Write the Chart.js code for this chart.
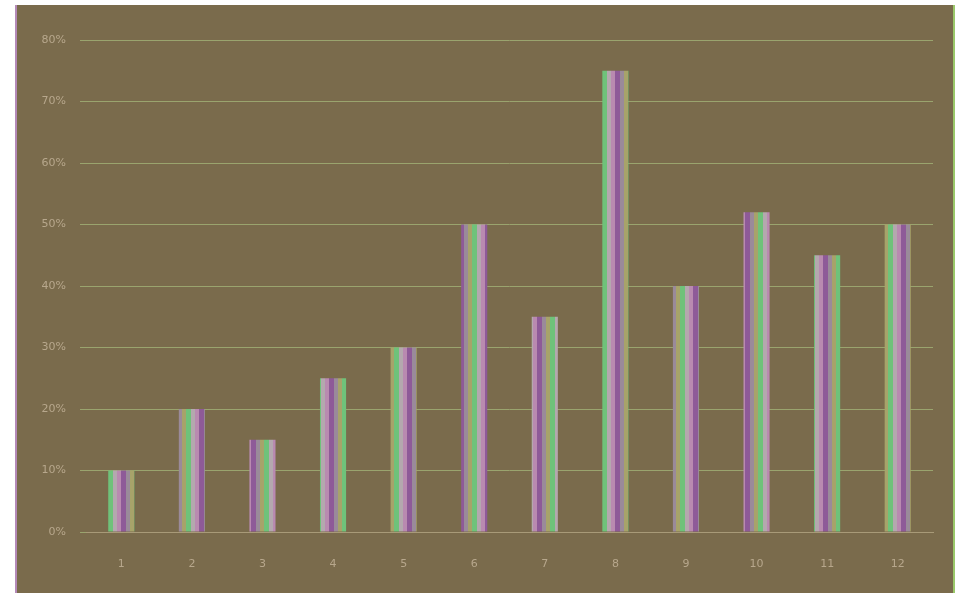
<!DOCTYPE html>
<html>
<head>
<meta charset="utf-8">
<script src="https://cdn.jsdelivr.net/npm/chart.js@4/dist/chart.umd.min.js"></script>
<style>
  html, body { margin: 0; padding: 0; background: #ffffff; }
  #wrap { width: 961px; height: 597px; }
</style>
</head>
<body>
<div id="wrap"><canvas id="c" width="961" height="597"></canvas></div>
<script>
// Monthly values (percent)
const categories = ['1', '2', '3', '4', '5', '6', '7', '8', '9', '10', '11', '12'];
const values = [10, 20, 15, 25, 30, 50, 35, 75, 40, 52, 45, 50];
const yTicks = [0, 10, 20, 30, 40, 50, 60, 70, 80];

// Striped fill for the bars
function stripePattern() {
  const p = document.createElement('canvas');
  p.width = 26; p.height = 4;
  const g = p.getContext('2d');
  const cols = ['#a7a36a', '#6fc27a', '#b4a8ae', '#b98ab0', '#8e5a98', '#9a8a9a'];
  const w = [4, 5, 4, 4, 5, 4];
  let x = 0;
  cols.forEach((c, i) => { g.fillStyle = c; g.fillRect(x, 0, w[i], 4); x += w[i]; });
  return g.createPattern(p, 'repeat');
}

// Panel behind the plot
const panel = {
  id: 'panel',
  beforeDraw(chart) {
    const ctx = chart.ctx;
    ctx.save();
    ctx.fillStyle = '#ffffff';
    ctx.fillRect(0, 0, chart.width, chart.height);
    ctx.fillStyle = '#7a6b4c';
    ctx.fillRect(15, 5, 940, 588);
    ctx.fillStyle = '#b48ab8';
    ctx.fillRect(15, 5, 2, 588);
    ctx.fillStyle = '#9ac86a';
    ctx.fillRect(953, 5, 2, 588);
    ctx.restore();
  }
};

new Chart(document.getElementById('c'), {
  type: 'bar',
  data: {
    labels: categories,
    datasets: [{
      data: values,
      backgroundColor: stripePattern(),
      borderWidth: 0,
      categoryPercentage: 1,
      barPercentage: 0.37
    }]
  },
  plugins: [panel],
  options: {
    responsive: false,
    animation: false,
    layout: { padding: { left: 28, right: 28, top: 40, bottom: 8 } },
    plugins: { legend: { display: false }, tooltip: { enabled: false } },
    scales: {
      x: {
        grid: { display: false, drawTicks: false },
        border: { color: '#a89a78', width: 1 },
        ticks: { color: '#b7a78c', font: { family: 'DejaVu Sans', size: 11 }, padding: 26 },
        afterFit(s) { s.height = 57; }
      },
      y: {
        min: 0, max: 80,
        afterBuildTicks(s) { s.ticks = yTicks.map(v => ({ value: v })); },
        grid: { color: '#9aa46e', lineWidth: 1, drawTicks: true, tickLength: 6 },
        border: { display: false },
        ticks: {
          color: '#b7a78c',
          font: { family: 'DejaVu Sans', size: 11 },
          padding: 14,
          callback: v => v + '%'
        },
        afterFit(s) { s.width = 58; }
      }
    }
  }
});
</script>
</body>
</html>
